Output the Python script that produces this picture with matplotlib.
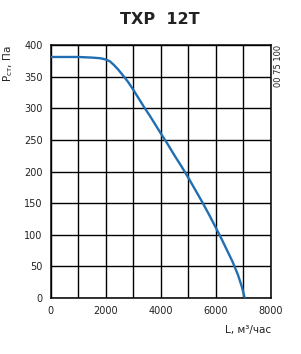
import matplotlib.pyplot as plt
import numpy as np

# fan curve
flow = [0, 500, 1000, 1500, 1800, 2000, 2150, 2300, 2450, 2600, 2800, 3000,
        3200, 3400, 3600, 3800, 4000, 4250, 4500, 4750, 5000, 5250, 5500,
        5750, 6000, 6200, 6400, 6600, 6800, 6950, 7050]
pressure = [381, 381, 381, 380, 379, 377, 374, 368, 361, 353, 342, 329,
            315, 301, 288, 274, 260, 243, 225, 208, 190, 171, 152,
            132, 111, 94, 76, 58, 37, 17, 0]

x_ticks = [0, 2000, 4000, 6000, 8000]
y_ticks = [0, 50, 100, 150, 200, 250, 300, 350, 400]

plt.rcParams['font.family'] = ['DejaVu Sans']

fig = plt.figure(figsize=(3.01, 3.54), dpi=100)
ax = fig.add_axes([0.169, 0.158, 0.731, 0.715])

ax.plot(flow, pressure, color='#1f6fb2', linewidth=1.7, solid_joinstyle='round', zorder=3)

ax.set_xlim(0, 8000)
ax.set_ylim(0, 400)
ax.set_xticks(np.arange(0, 8001, 1000))
ax.set_xticklabels([str(v) if v in x_ticks else '' for v in range(0, 8001, 1000)])
ax.set_yticks(y_ticks)
ax.set_yticklabels([str(v) for v in y_ticks])
ax.grid(True, color='black', linewidth=1.0)
ax.tick_params(length=0, labelsize=7, pad=6, colors='#222222')
for s in ax.spines.values():
    s.set_linewidth(1.1)
    s.set_color('black')

fig.text(0.53, 0.945, 'ТХР  12Т', ha='center', va='center', fontsize=11.5,
         fontweight='bold', color='#222222')
fig.text(0.027, 0.873, r'Р$_{\mathrm{ст}}$, Па', rotation=90, ha='center', va='top',
         fontsize=7.5, color='#222222')
fig.text(0.900, 0.068, 'L, м³/час', ha='right', va='center', fontsize=7.5, color='#222222')
fig.text(0.925, 0.873, '00 75 100', rotation=90, ha='center', va='top',
         fontsize=6, color='#222222')

fig.savefig('out.png', dpi=100)
